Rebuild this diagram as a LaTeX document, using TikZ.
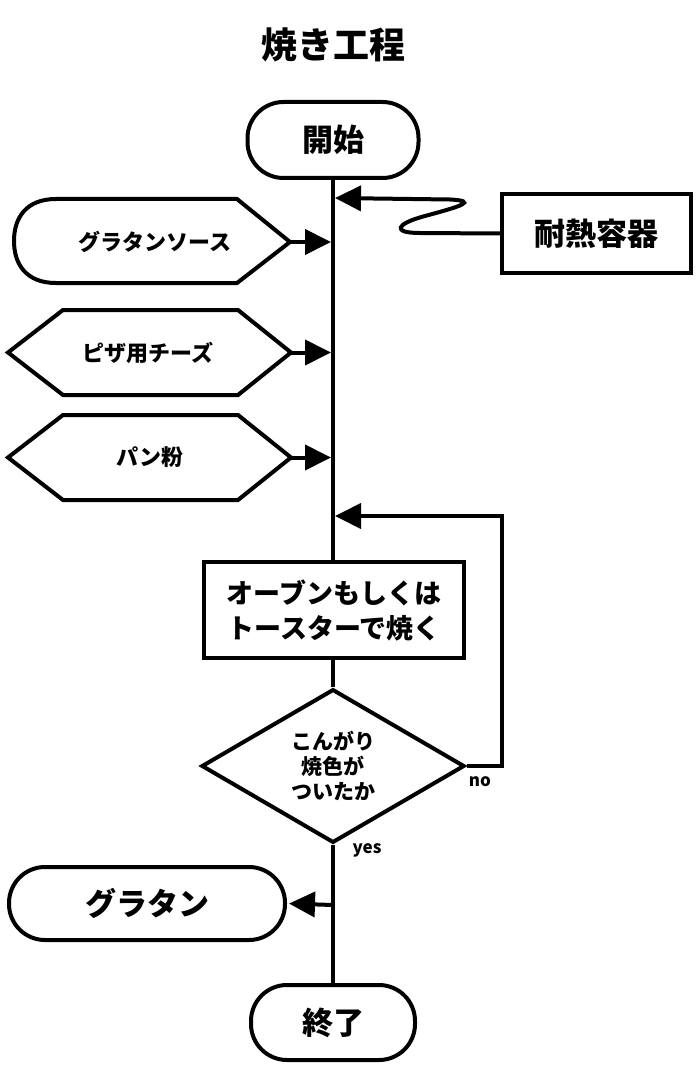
\documentclass[tikz,border=0pt]{standalone}
\usepackage{fontspec}
\setmainfont{Noto Sans CJK JP}
\usetikzlibrary{arrows.meta,shapes.geometric}
\begin{document}
\begin{tikzpicture}[x=1pt,y=-1pt,line width=4pt,
  font=\bfseries,
  arr/.style={-{Triangle[length=26pt,width=25pt]}},
  bigtxt/.style={font=\bfseries\fontsize{31}{36}\selectfont},
  midtxt/.style={font=\bfseries\fontsize{22}{26}\selectfont},
  terminal/.style={draw, rounded corners=36pt, inner sep=0pt, bigtxt},
  procbox/.style={draw, inner sep=0pt},
  lbl/.style={font=\bfseries\fontsize{17}{20}\selectfont, inner sep=0pt}]
\useasboundingbox (0,0) rectangle (696,1067);
\fill[white] (0,0) rectangle (696,1067);

% title
\node[font=\bfseries\fontsize{36}{40}\selectfont] (title) at (333,45) {焼き工程};

% start / end / output
\node[terminal, minimum width=171pt, minimum height=76pt] (start) at (333,140) {開始};
\node[terminal, minimum width=164pt, minimum height=75pt] (end) at (333,1022.5) {終了};
\node[terminal, minimum width=276pt, minimum height=73pt] (gratin) at (147,903.5) {グラタン};

% container box
\node[procbox, bigtxt, minimum width=189pt, minimum height=79pt] (heat) at (596.5,233.5) {耐熱容器};

% process box
\node[procbox, font=\bfseries\fontsize{27}{35}\selectfont, align=center,
  minimum width=260pt, minimum height=96pt] (bake) at (334,610) {オーブンもしくは\\トースターで焼く};

% decision
\node[draw, diamond, inner sep=0pt, minimum width=263pt, minimum height=146pt,
  font=\bfseries\fontsize{21}{25}\selectfont, align=center] (dec) at (333,766) {こんがり\\焼色が\\ついたか};

% sauce (display shape)
\draw (237,199) -- (290,242) -- (237,283) -- (56,283)
  .. controls (26,283) and (14,264) .. (14,241)
  .. controls (14,218) and (26,199) .. (56,199) -- cycle;
\node[midtxt] (sauce) at (155,242) {グラタンソース};
\coordinate (sauce-tip) at (290,242);

% cheese (preparation hexagon)
\draw (8,352.5) -- (63,310) -- (238,310) -- (291,352.5) -- (238,395) -- (63,395) -- cycle;
\node[midtxt] (cheese) at (148,352.5) {ピザ用チーズ};
\coordinate (cheese-tip) at (291,352.5);

% bread crumbs
\draw (8,457.5) -- (63,415) -- (238,415) -- (291,457.5) -- (238,500) -- (63,500) -- cycle;
\node[midtxt] (crumbs) at (150,457.5) {パン粉};
\coordinate (crumbs-tip) at (291,457.5);

% junctions on main line
\coordinate (j1) at (331,242);
\coordinate (j2) at (331,352.5);
\coordinate (j3) at (331,457.5);
\coordinate (jw) at (335,198);
\coordinate (jl) at (335,516);
\coordinate (jr) at (502,516);
\coordinate (jy) at (333,905);

% main line
\draw (start.south) -- (start.south |- bake.north);
\draw (bake.south -| dec.north) -- (dec.north);
\draw (dec.south) -- (end.north);

% inputs
\draw[arr] (sauce-tip) -- (j1);
\draw[arr] (cheese-tip) -- (j2);
\draw[arr] (crumbs-tip) -- (j3);

% wavy connector from container
\draw[arr] (heat.west) -- (420,233)
  .. controls (392,233) and (395,224) .. (425,216)
  .. controls (462,206) and (478,201) .. (450,199.5) -- (jw);

% loop back
\draw[arr] (dec.east) -| (jr) -- (jl);
\node[lbl] (no) at (480,782) {no};

% yes branch
\draw[arr, shorten >=2pt] (jy) -- (gratin.east);
\node[lbl] (yes) at (367,850) {yes};
\end{tikzpicture}
\end{document}
